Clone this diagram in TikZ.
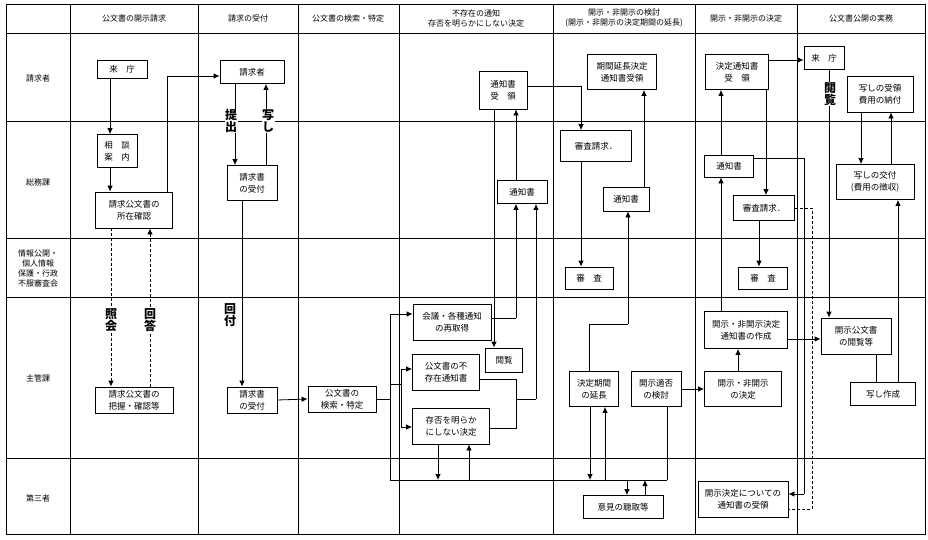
\documentclass[tikz,border=0pt]{standalone}
\usepackage{fontspec}
\setmainfont{Noto Sans CJK JP}
\usetikzlibrary{arrows.meta}
\begin{document}
\begin{tikzpicture}[x=1pt,y=-1pt,
  box/.style={draw,line width=0.8pt,align=center,inner sep=1pt,font=\fontsize{8.5}{12}\selectfont},
  arr/.style={line width=0.8pt,-{Latex[length=6pt,width=5.5pt]}},
  ln/.style={line width=0.8pt},
  dsh/.style={line width=0.8pt,dashed,dash pattern=on 3pt off 2pt},
  hdr/.style={font=\fontsize{8}{10}\selectfont,align=center},
  vlab/.style={font=\fontsize{12}{12.5}\selectfont\bfseries,fill=white,inner sep=0.5pt,align=center},
  grid/.style={line width=0.9pt}]
\useasboundingbox (0,0) rectangle (928,539);
% grid
\draw[grid] (6,4) rectangle (925,534);
\foreach \yy in {33,121,238,297,458} \draw[grid] (6,\yy) -- (925,\yy);
\foreach \xx in {70,198,298,399,553,695,797} \draw[grid] (\xx,4) -- (\xx,534);
% headers
\node[hdr] (h1) at (134,18) {公文書の開示請求};
\node[hdr] (h2) at (248,18) {請求の受付};
\node[hdr] (h3) at (348,18) {公文書の検索・特定};
\node[hdr] (h4) at (476,18) {不存在の通知\\存否を明らかにしない決定};
\node[hdr] (h5) at (624,18) {開示・非開示の検討\\(開示・非開示の決定期間の延長)};
\node[hdr] (h6) at (746,18) {開示・非開示の決定};
\node[hdr] (h7) at (861,18) {公文書公開の実務};
\node[hdr] (r1) at (38,78) {請求者};
\node[hdr] (r2) at (38,182) {総務課};
\node[hdr] (r3) at (38,268) {情報公開・\\個人情報\\保護・行政\\不服審査会};
\node[hdr] (r4) at (38,378) {主管課};
\node[hdr] (r5) at (38,498) {第三者};
% boxes
\node[box,minimum width=50pt,minimum height=18pt] (raicho1) at (122,69) {来　庁};
\node[box,minimum width=40pt,minimum height=33pt] (soudan) at (117,151) {相　談\\案　内};
\node[box,minimum width=77pt,minimum height=36pt] (shozai) at (134,210) {請求公文書の\\所在確認};
\node[box,minimum width=64pt,minimum height=23pt] (seikyusha) at (252,72) {請求者};
\node[box,minimum width=50pt,minimum height=35pt] (uke1) at (252,183) {請求書\\の受付};
\node[box,minimum width=78pt,minimum height=26pt] (haaku) at (134,400) {請求公文書の\\把握・確認等};
\node[box,minimum width=50pt,minimum height=26pt] (uke2) at (252,400) {請求書\\の受付};
\node[box,minimum width=68pt,minimum height=26pt] (kensaku) at (342,399) {公文書の\\検索・特定};
\node[box,minimum width=78pt,minimum height=36pt] (kaigi) at (452,322) {会議・各種通知\\の再取得};
\node[box,minimum width=37pt,minimum height=24pt] (etsu4) at (504,360) {閲覧};
\node[box,minimum width=67pt,minimum height=36pt] (fuson) at (446,372) {公文書の不\\存在通知書};
\node[box,minimum width=77pt,minimum height=36pt] (sonpi) at (451,426) {存否を明らか\\にしない決定};
\node[box,minimum width=48pt,minimum height=38pt] (juryo4) at (503,90) {通知書\\受　領};
\node[box,minimum width=50pt,minimum height=23pt] (tsu4) at (522,192) {通知書};
\node[box,minimum width=71pt,minimum height=31pt] (sreq5) at (596,146) {審査請求．};
\node[box,minimum width=69pt,minimum height=35pt] (kikan) at (622,72) {期間延長決定\\通知書受領};
\node[box,minimum width=46pt,minimum height=24pt] (tsu5) at (626,199) {通知書};
\node[box,minimum width=48pt,minimum height=22pt] (shin5) at (589,278) {審　査};
\node[box,minimum width=49pt,minimum height=35pt] (enchou) at (594,389) {決定期間\\の延長};
\node[box,minimum width=50pt,minimum height=35pt] (tekihi) at (656,389) {開示適否\\の検討};
\node[box,minimum width=80pt,minimum height=23pt] (iken) at (623,507) {意見の聴取等};
\node[box,minimum width=63pt,minimum height=35pt] (kjuryo) at (737,72) {決定通知書\\受　領};
\node[box,minimum width=49pt,minimum height=22pt] (tsu6) at (729,166) {通知書};
\node[box,minimum width=61pt,minimum height=25pt] (sreq6) at (764,208) {審査請求．};
\node[box,minimum width=49pt,minimum height=22pt] (shin6) at (763,278) {審　査};
\node[box,minimum width=83pt,minimum height=37pt] (sakusei) at (746,330) {開示・非開示決定\\通知書の作成};
\node[box,minimum width=77pt,minimum height=35pt] (kettei) at (743,389) {開示・非開示\\の決定};
\node[box,minimum width=90pt,minimum height=36pt] (kaiji) at (743,499) {開示決定についての\\通知書の受領};
\node[box,minimum width=40pt,minimum height=23pt] (raicho2) at (824,58) {来　庁};
\node[box,minimum width=66pt,minimum height=36pt] (nofu) at (880,94) {写しの受領\\費用の納付};
\node[box,minimum width=78pt,minimum height=35pt] (kofu) at (875,182) {写しの交付\\(費用の徴収)};
\node[box,minimum width=70pt,minimum height=36pt] (etsu7) at (856,336) {開示公文書\\の閲覧等};
\node[box,minimum width=65pt,minimum height=23pt] (utsushi) at (883,394) {写し作成};
% coordinates
\coordinate (j0) at (390,399);
\coordinate (jtop) at (390,314);
\coordinate (jb) at (390,480);
\coordinate (jm) at (390,384);
\coordinate (jm2) at (401,384);
\coordinate (jf) at (401,369);
\coordinate (js) at (401,427);
\coordinate (busR) at (667,480);
\coordinate (k1) at (516,318);
\coordinate (f1) at (516,379);
\coordinate (f2) at (516,428);
\coordinate (f3) at (516,399);
\coordinate (f4) at (536,399);
\coordinate (e1) at (589,324);
\coordinate (e2) at (628,324);
\coordinate (b438) at (438,480);
\coordinate (b469) at (469,480);
\coordinate (b590) at (590,480);
\coordinate (b605) at (605,480);
\coordinate (b627) at (627,480);
\coordinate (b645) at (645,480);
\coordinate (t1) at (804,158);
\coordinate (t2) at (804,494);
\coordinate (d1) at (812,208);
\coordinate (d2) at (812,509);
% connectors col1-2
\draw[arr] ([xshift=-12pt]raicho1.south) -- ([xshift=-12pt]raicho1.south |- soudan.north);
\draw[arr] ([xshift=-7pt]soudan.south) -- ([xshift=-7pt]soudan.south |- shozai.north);
\draw[arr] ([xshift=33pt]shozai.north) |- ([yshift=-4pt]seikyusha.west);
\draw[dsh,-{Latex[length=6pt,width=5.5pt]}] ([xshift=-23pt]shozai.south) -- ([xshift=-23pt]haaku.north);
\draw[dsh,-{Latex[length=6pt,width=5.5pt]}] ([xshift=16pt]haaku.north) -- ([xshift=16pt]shozai.south);
\draw[arr] ([xshift=-17pt]seikyusha.south) -- ([xshift=-17pt]uke1.north);
\draw[arr] ([xshift=14pt]uke1.north) -- ([xshift=14pt]seikyusha.south);
\draw[arr] ([xshift=-10pt]uke1.south) -- ([xshift=-10pt]uke2.north);
\draw[arr] (uke2.east) -- (kensaku.west);
\node[vlab] (l1) at (231,121) {提\\出};
\node[vlab] (l2) at (268,121) {写\\し};
\node[vlab] (l3) at (111,320) {照\\会};
\node[vlab] (l4) at (150,320) {回\\答};
\node[vlab] (l5) at (230,315) {回\\付};
% col3-4
\draw[ln] (kensaku.east) -- (j0);
\draw[ln] (jtop) -- (jb) -- (busR);
\draw[arr] (jtop) -- (jtop -| kaigi.west);
\draw[ln] (jm) -- (jm2);
\draw[ln] (jf) -- (js);
\draw[arr] (jf) -- (jf -| fuson.west);
\draw[arr] (js) -- (js -| sonpi.west);
\draw[ln] (k1 -| kaigi.east) -- (k1);
\draw[arr] (k1) -- (k1 |- tsu4.south);
\draw[ln] (f1 -| fuson.east) -- (f1) -- (f2) -- (f2 -| sonpi.east);
\draw[ln] (f3) -- (f4);
\draw[arr] (f4) -- (f4 |- tsu4.south);
\draw[arr] ([xshift=-9pt]juryo4.south) -- ([xshift=-9pt]juryo4.south |- etsu4.north);
\draw[arr] ([xshift=-6pt]tsu4.north) -- ([xshift=-6pt]tsu4.north |- juryo4.south);
\draw[arr] ([yshift=4pt]juryo4.east) -| ([xshift=-15pt]sreq5.north);
\draw[arr] ([xshift=-13pt]sonpi.south) -- (b438);
\draw[arr] (b469) -- (b469 |- sonpi.south);
% col5
\draw[arr] ([xshift=-15pt]sreq5.south) -- ([xshift=-15pt]sreq5.south |- shin5.north);
\draw[arr] ([xshift=18pt]tsu5.north) -- ([xshift=18pt]tsu5.north |- kikan.south);
\draw[ln] (e1 |- enchou.north) -- (e1) -- (e2);
\draw[arr] (e2) -- (e2 |- tsu5.south);
\draw[arr] (b590 |- enchou.south) -- (b590);
\draw[arr] (b605) -- (b605 |- enchou.south);
\draw[ln] (busR |- tekihi.south) -- (busR);
\draw[arr] (b627) -- (b627 |- iken.north);
\draw[arr] (b645 |- iken.north) -- (b645);
\draw[arr] (tekihi.east) -- (kettei.west);
% col6
\draw[arr] ([xshift=-5pt]kettei.north) -- ([xshift=-5pt]kettei.north |- sakusei.south);
\draw[arr] ([xshift=-25pt]sakusei.north) -- ([xshift=-25pt]sakusei.north |- tsu6.south);
\draw[arr] ([xshift=-25pt]sakusei.north |- tsu6.north) -- ([xshift=-25pt]sakusei.north |- kjuryo.south);
\draw[arr] ([xshift=29pt]kjuryo.south) -- ([xshift=29pt]kjuryo.south |- sreq6.north);
\draw[arr] ([xshift=-5pt]sreq6.south) -- ([xshift=-5pt]sreq6.south |- shin6.north);
\draw[ln] ([yshift=8pt]tsu6.east) -- (t1) -- (t2);
\draw[arr] (t2) -- (t2 -| kaiji.east);
\draw[dsh] (sreq6.east) -- (d1) -- (d2) -- (d2 -| kaiji.east);
\draw[arr] ([yshift=-9pt]sakusei.east) -- ([yshift=-9pt]sakusei.east -| etsu7.west);
\draw[arr] ([yshift=12pt]kjuryo.east) -- ([yshift=12pt]kjuryo.east -| raicho2.west);
% col7
\draw[arr] ([xshift=5pt]raicho2.south) -- ([xshift=5pt]raicho2.south |- etsu7.north);
\node[vlab] (l6) at (830,94) {閲\\覧};
\draw[arr] ([xshift=-19pt]nofu.south) -- ([xshift=-19pt]nofu.south |- kofu.north);
\draw[arr] ([xshift=16pt]kofu.north) -- ([xshift=16pt]kofu.north |- nofu.south);
\draw[arr] ([xshift=15pt]utsushi.north) -- ([xshift=15pt]utsushi.north |- kofu.south);
\draw[ln] ([xshift=20pt]etsu7.south) -- ([xshift=20pt]etsu7.south |- utsushi.north);
\end{tikzpicture}
\end{document}
